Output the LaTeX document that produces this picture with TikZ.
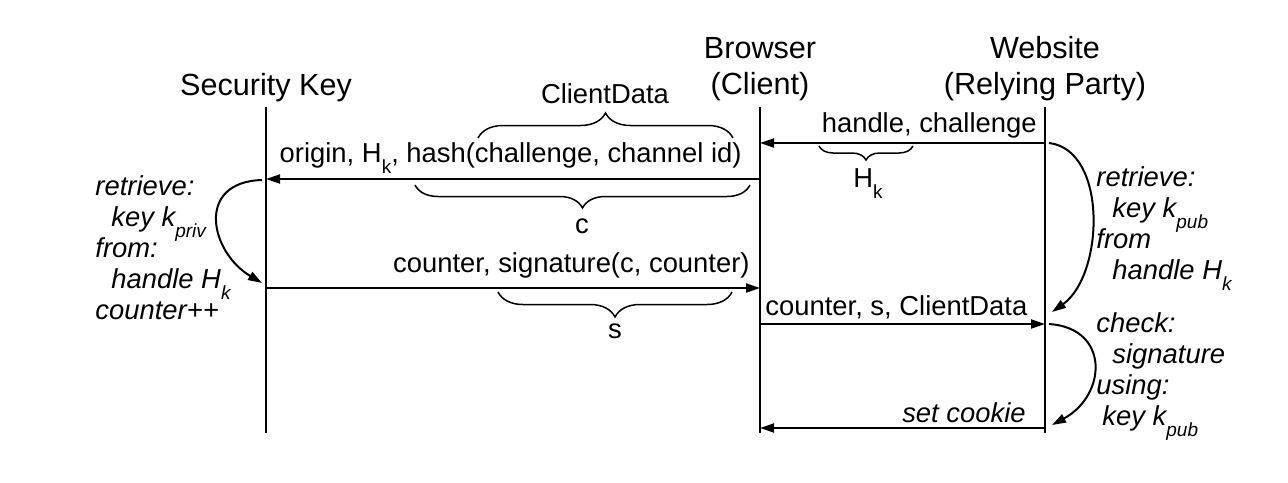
\documentclass[tikz,border=0pt]{standalone}
\usepackage{fontspec}
\setmainfont{Liberation Sans}
\usetikzlibrary{arrows.meta,decorations.pathreplacing}
\newcommand{\lowsub}[1]{\raisebox{-5.5pt}[0pt][0pt]{\fontsize{9.5}{9.5}\selectfont #1}}
\begin{document}
\begin{tikzpicture}[x=0.5pt, y=-0.5pt,
  txt/.style={font=\fontsize{13.7}{15.5}\selectfont, inner sep=0pt},
  head/.style={font=\fontsize{15.3}{17}\selectfont, inner sep=0pt, anchor=base},
  aside/.style={inner sep=0pt, font=\fontsize{13.7}{15.5}\selectfont\itshape, align=left, anchor=base west},
  life/.style={line width=1pt},
  msg/.style={line width=1pt, -{Triangle[length=7pt,width=4.5pt]}},
  curly/.style={line width=0.75pt, decorate, decoration={brace, amplitude=#1}}]
\useasboundingbox (0,0) rectangle (1288,482);
\node[head] (sk) at (266,95){Security Key};
\node[head] (br) at (760,58){Browser};
\node[head] (brc) at (760,94){(Client)};
\node[head] (ws) at (1045,58){Website};
\node[head] (wsc) at (1045,94){(Relying Party)};
\coordinate (sktop) at (266,107);
\coordinate (skbot) at (266,433);
\coordinate (brtop) at (760,107);
\coordinate (brbot) at (760,433);
\coordinate (wstop) at (1045,107);
\coordinate (wsbot) at (1045,433);
\draw[life](sktop) -- (skbot);
\draw[life](brtop) -- (brbot);
\draw[life](wstop) -- (wsbot);
\coordinate (ws1) at (1045,143);
\coordinate (br1) at (760,143);
\draw[msg](ws1) -- (br1);
\node[txt, anchor=base east] (m1) at (1037,132){handle, challenge};
\draw[curly=7pt] (913,146) -- (819,146);
\node[txt, anchor=base] (hk) at (868,187){H\lowsub{k}};
\coordinate (br2) at (760,179);
\coordinate (sk2) at (266,179);
\draw[msg](br2) -- (sk2);
\node[txt, anchor=base east] (m2) at (742,162){origin, H\lowsub{k}, hash(challenge, channel id)};
\draw[curly=12.5pt] (478,138) -- (733,138);
\node[txt, anchor=base] (cd) at (605,103){ClientData};
\draw[curly=11.5pt] (750,185) -- (415,185);
\node[txt, anchor=base] (c) at (582,233){c};
\coordinate (sk3) at (266,288);
\coordinate (br3) at (760,288);
\draw[msg](sk3) -- (br3);
\node[txt, anchor=base east] (m3) at (750,272){counter, signature(c, counter)};
\draw[curly=12.5pt] (732,292) -- (498,292);
\node[txt, anchor=base] (s) at (615,338){s};
\coordinate (br4) at (760,324);
\coordinate (ws4) at (1045,324);
\draw[msg](br4) -- (ws4);
\node[txt, anchor=base west] (m4) at (765,315){counter, s, ClientData};
\coordinate (ws5) at (1045,428);
\coordinate (br5) at (760,428);
\draw[msg](ws5) -- (br5);
\node[txt, anchor=base east, font=\fontsize{13.7}{15.5}\selectfont\itshape] (m5) at (1026,422){set cookie};
\coordinate (sk2a) at (262,180);
\coordinate (sk3a) at (262,283);
\draw[msg](sk2a) .. controls (195,182) and (210,252) .. (sk3a);
\node[aside] (skn) at (95,319){retrieve:\\\hspace*{8pt}key k\lowsub{priv}\\from:\\\hspace*{8pt}handle H\lowsub{k}\\counter++};
\coordinate (ws1a) at (1049,143);
\coordinate (ws4a) at (1052,312);
\draw[msg](ws1a) .. controls (1108,150) and (1104,275) .. (ws4a);
\node[aside] (wsn1) at (1096,279){retrieve:\\\hspace*{8pt}key k\lowsub{pub}\\from\\\hspace*{8pt}handle H\lowsub{k}};
\coordinate (ws4b) at (1049,324);
\coordinate (ws5a) at (1052,425);
\draw[msg](ws4b) .. controls (1110,328) and (1107,395) .. (ws5a);
\node[aside] (wsn2) at (1096,425){check:\\\hspace*{8pt}signature\\using:\\\hspace*{3pt}key k\lowsub{pub}};

\end{tikzpicture}
\end{document}
